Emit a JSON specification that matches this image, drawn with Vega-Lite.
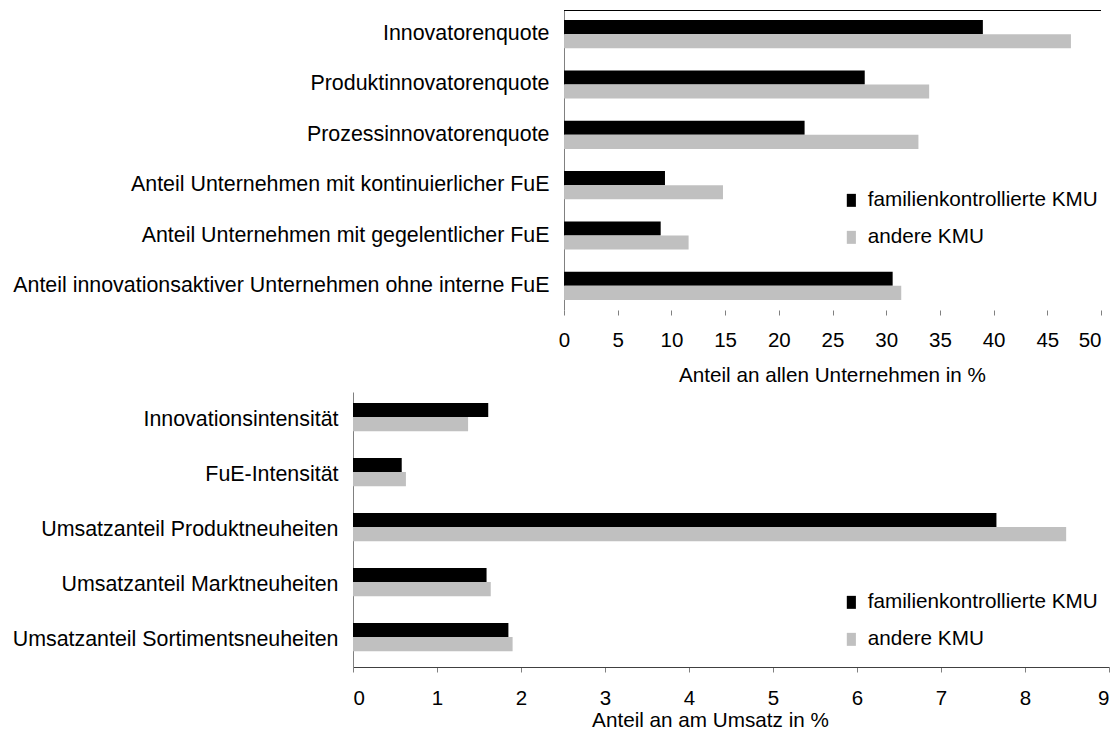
{
  "$schema": "https://vega.github.io/schema/vega-lite/v6.json",
  "padding": {"left": 12, "top": 10, "right": 3, "bottom": 0},
  "background": "#ffffff",
  "config": {
    "font": "Liberation Sans",
    "view": {"stroke": null},
    "concat": {"spacing": 6},
    "axis": {"labelColor": "#000000", "titleColor": "#000000", "titleFontWeight": "normal", "grid": false}
  },
  "datasets": {
    "oben": [
      {"kategorie": "Innovatorenquote", "gruppe": "familienkontrollierte KMU", "wert": 39.0},
      {"kategorie": "Innovatorenquote", "gruppe": "andere KMU", "wert": 47.2},
      {"kategorie": "Produktinnovatorenquote", "gruppe": "familienkontrollierte KMU", "wert": 28.0},
      {"kategorie": "Produktinnovatorenquote", "gruppe": "andere KMU", "wert": 34.0},
      {"kategorie": "Prozessinnovatorenquote", "gruppe": "familienkontrollierte KMU", "wert": 22.4},
      {"kategorie": "Prozessinnovatorenquote", "gruppe": "andere KMU", "wert": 33.0},
      {"kategorie": "Anteil Unternehmen mit kontinuierlicher FuE", "gruppe": "familienkontrollierte KMU", "wert": 9.4},
      {"kategorie": "Anteil Unternehmen mit kontinuierlicher FuE", "gruppe": "andere KMU", "wert": 14.8},
      {"kategorie": "Anteil Unternehmen mit gegelentlicher FuE", "gruppe": "familienkontrollierte KMU", "wert": 9.0},
      {"kategorie": "Anteil Unternehmen mit gegelentlicher FuE", "gruppe": "andere KMU", "wert": 11.6},
      {"kategorie": "Anteil innovationsaktiver Unternehmen ohne interne FuE", "gruppe": "familienkontrollierte KMU", "wert": 30.6},
      {"kategorie": "Anteil innovationsaktiver Unternehmen ohne interne FuE", "gruppe": "andere KMU", "wert": 31.4}
    ],
    "unten": [
      {"kategorie": "Innovationsintensität", "gruppe": "familienkontrollierte KMU", "wert": 1.61},
      {"kategorie": "Innovationsintensität", "gruppe": "andere KMU", "wert": 1.37},
      {"kategorie": "FuE-Intensität", "gruppe": "familienkontrollierte KMU", "wert": 0.58},
      {"kategorie": "FuE-Intensität", "gruppe": "andere KMU", "wert": 0.63},
      {"kategorie": "Umsatzanteil Produktneuheiten", "gruppe": "familienkontrollierte KMU", "wert": 7.66},
      {"kategorie": "Umsatzanteil Produktneuheiten", "gruppe": "andere KMU", "wert": 8.49},
      {"kategorie": "Umsatzanteil Marktneuheiten", "gruppe": "familienkontrollierte KMU", "wert": 1.59},
      {"kategorie": "Umsatzanteil Marktneuheiten", "gruppe": "andere KMU", "wert": 1.64},
      {"kategorie": "Umsatzanteil Sortimentsneuheiten", "gruppe": "familienkontrollierte KMU", "wert": 1.85},
      {"kategorie": "Umsatzanteil Sortimentsneuheiten", "gruppe": "andere KMU", "wert": 1.90}
    ],
    "achse": [{"von": 0, "bis": 50}]
  },
  "resolve": {"scale": {"color": "independent"}, "legend": {"color": "independent"}},
  "vconcat": [
    {
      "width": 748,
      "height": 300,
      "layer": [
        {
          "data": {"name": "oben"},
          "mark": {"type": "bar"},
          "encoding": {
            "y": {
              "field": "kategorie", "type": "nominal", "sort": null,
              "scale": {"paddingInner": 0.44, "paddingOuter": 0.2},
              "axis": {"title": null, "ticks": false, "offset": -211, "domainColor": "#808080", "labelFontSize": 21.4, "labelPadding": 15, "labelLimit": 0}
            },
            "yOffset": {
              "field": "gruppe", "type": "nominal", "sort": ["familienkontrollierte KMU", "andere KMU"],
              "scale": {"paddingInner": 0, "paddingOuter": 0}
            },
            "x": {
              "field": "wert", "type": "quantitative", "title": "Anteil an allen Unternehmen in %",
              "scale": {"domain": [-19.65, 50], "nice": false, "zero": false},
              "axis": {"values": [0, 5, 10, 15, 20, 25, 30, 35, 40, 45, 50], "title": "Anteil an allen Unternehmen in %", "titleX": 479, "domain": false, "tickColor": "#808080", "tickSize": 5, "labelFontSize": 20.5, "labelPadding": 15, "titleFontSize": 20.7, "titlePadding": 15}
            },
            "color": {
              "field": "gruppe", "type": "nominal", "sort": ["familienkontrollierte KMU", "andere KMU"],
              "scale": {"domain": ["familienkontrollierte KMU", "andere KMU"], "range": ["#000000", "#c0c0c0"]},
              "legend": {"orient": "none", "legendX": 488, "legendY": 180, "title": null, "symbolType": "M-0.7,-1L0.7,-1L0.7,1L-0.7,1Z", "symbolSize": 169, "symbolStrokeWidth": 0, "labelFontSize": 20.7, "labelOffset": 6, "labelLimit": 0, "rowPadding": 15, "padding": 0, "labelColor": "#000000"}
            }
          }
        },
        {
          "data": {"name": "achse"},
          "mark": {"type": "rule", "color": "#000000", "strokeWidth": 1},
          "encoding": {
            "x": {"field": "von", "type": "quantitative", "title": "Anteil an allen Unternehmen in %"},
            "x2": {"field": "bis"},
            "y": {"value": {"expr": "height + 0.5"}}
          }
        }
      ]
    },
    {
      "width": 756,
      "height": 275,
      "data": {"name": "unten"},
      "mark": {"type": "bar"},
      "encoding": {
        "y": {
          "field": "kategorie", "type": "nominal", "sort": null,
          "scale": {"paddingInner": 0.4, "paddingOuter": 0.2},
          "axis": {"title": null, "ticks": false, "domainColor": "#808080", "labelFontSize": 21.4, "labelPadding": 15, "labelLimit": 0}
        },
        "yOffset": {
          "field": "gruppe", "type": "nominal", "sort": ["familienkontrollierte KMU", "andere KMU"],
          "scale": {"paddingInner": 0, "paddingOuter": 0}
        },
        "x": {
          "field": "wert", "type": "quantitative",
          "scale": {"domain": [0, 9], "nice": false},
          "axis": {"values": [0, 1, 2, 3, 4, 5, 6, 7, 8, 9], "title": "Anteil an am Umsatz in %", "titleX": 357, "domainColor": "#404040", "tickColor": "#808080", "tickSize": 5, "labelFontSize": 20.5, "labelPadding": 16, "titleFontSize": 20.7, "titlePadding": 2}
        },
        "color": {
          "field": "gruppe", "type": "nominal", "sort": ["familienkontrollierte KMU", "andere KMU"],
          "scale": {"domain": ["familienkontrollierte KMU", "andere KMU"], "range": ["#000000", "#c0c0c0"]},
          "legend": {"orient": "none", "legendX": 488, "legendY": 200, "title": null, "symbolType": "M-0.7,-1L0.7,-1L0.7,1L-0.7,1Z", "symbolSize": 169, "symbolStrokeWidth": 0, "labelFontSize": 20.7, "labelOffset": 6, "labelLimit": 0, "rowPadding": 15, "padding": 0, "labelColor": "#000000"}
        }
      }
    }
  ]
}
